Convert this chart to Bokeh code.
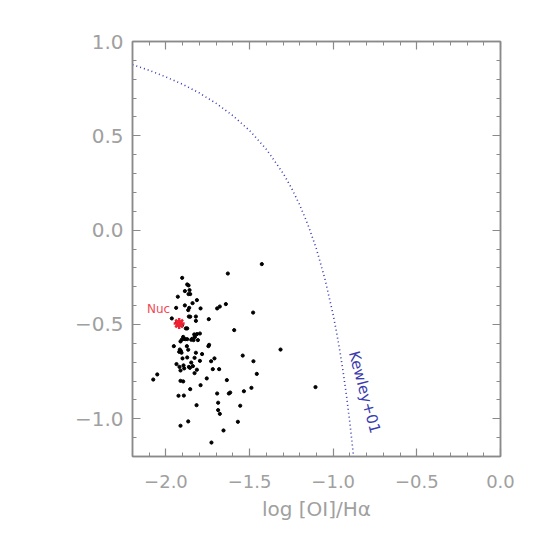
from bokeh.plotting import figure
from bokeh.models import LinearAxis, SingleIntervalTicker, Label, Range1d, ColumnDataSource, CustomJSTickFormatter
from bokeh.embed import file_html
from bokeh.resources import INLINE

# ---- data ----
oi_ha = [-1.427, -1.630, -1.903, -1.873, -1.865, -1.887, -1.859, -1.865, -1.855, -1.929,
         -1.815, -1.841, -1.887, -1.939, -1.861, -1.867, -1.793, -1.694, -1.678, -1.642,
         -1.479, -1.965, -1.863, -1.855, -1.821, -1.821, -1.744, -1.592, -1.881, -1.873,
         -1.831, -1.815, -1.797, -1.897, -1.893, -1.885, -1.905, -1.873, -1.843, -1.835,
         -1.809, -1.827, -1.849, -1.913, -1.953, -1.875, -1.746, -1.742, -1.917, -1.911,
         -1.921, -1.907, -1.867, -1.821, -1.784, -1.901, -1.873, -1.829, -1.710, -1.730,
         -1.797, -1.849, -1.541, -1.315, -1.477, -1.937, -1.919, -1.895, -1.863, -1.857,
         -1.839, -1.815, -1.891, -1.913, -1.829, -1.720, -1.682, -1.457, -2.052, -2.076,
         -1.756, -1.636, -1.913, -1.897, -1.793, -1.855, -1.489, -1.534, -1.616, -1.624,
         -1.694, -1.893, -1.925, -1.817, -1.688, -1.556, -1.688, -1.678, -1.867, -1.570,
         -1.913, -1.656, -1.728, -1.106, -1.905, -1.935]
oiii_hb = [-0.180, -0.230, -0.253, -0.288, -0.293, -0.323, -0.318, -0.339, -0.339, -0.353,
           -0.371, -0.387, -0.399, -0.412, -0.412, -0.424, -0.415, -0.415, -0.405, -0.392,
           -0.437, -0.468, -0.458, -0.459, -0.458, -0.481, -0.472, -0.530, -0.521, -0.521,
           -0.553, -0.551, -0.548, -0.566, -0.576, -0.578, -0.580, -0.578, -0.576, -0.583,
           -0.583, -0.566, -0.581, -0.590, -0.615, -0.615, -0.615, -0.608, -0.633, -0.640,
           -0.645, -0.650, -0.634, -0.650, -0.657, -0.680, -0.675, -0.677, -0.680, -0.695,
           -0.693, -0.702, -0.665, -0.633, -0.695, -0.710, -0.725, -0.717, -0.725, -0.730,
           -0.721, -0.740, -0.733, -0.744, -0.758, -0.737, -0.737, -0.762, -0.765, -0.792,
           -0.786, -0.795, -0.799, -0.802, -0.822, -0.843, -0.836, -0.854, -0.861, -0.866,
           -0.866, -0.877, -0.878, -0.928, -0.915, -0.931, -0.954, -0.974, -1.014, -1.016,
           -1.037, -1.062, -1.126, -0.832, -0.505, -0.490]

nuc_x = [-1.921]
nuc_y = [-0.495]

# Kewley et al. 2001 maximum-starburst line (tabulated)
kewley_x = [-2.2, -2.1, -2.0, -1.9, -1.8, -1.7, -1.6, -1.5, -1.4, -1.3, -1.25, -1.2,
            -1.15, -1.1, -1.05, -1.0, -0.98, -0.96, -0.94, -0.92, -0.90, -0.88, -0.875]
kewley_y = [0.877, 0.847, 0.812, 0.773, 0.727, 0.672, 0.607, 0.528, 0.429, 0.302, 0.224, 0.133,
            0.026, -0.101, -0.257, -0.450, -0.542, -0.643, -0.756, -0.882, -1.025, -1.187, -1.231]

x_tick_labels = {-2.0: "\u22122.0", -1.5: "\u22121.5", -1.0: "\u22121.0", -0.5: "\u22120.5", 0.0: "0.0"}
y_tick_labels = {-1.0: "\u22121.0", -0.5: "\u22120.5", 0.0: "0.0", 0.5: "0.5", 1.0: "1.0"}

GRAY = "#8a8a8a"
LABEL_GRAY = "#a0a0a0"
FONT = "DejaVu Sans"

p = figure(width=532, height=532, x_range=Range1d(-2.2, 0.0), y_range=Range1d(-1.2, 1.0),
           output_backend="svg", toolbar_location=None,
           min_border_left=132, min_border_top=41, min_border_right=32, min_border_bottom=76)
p.grid.visible = False
p.outline_line_color = GRAY
p.outline_line_width = 1.5
p.background_fill_color = "white"
p.border_fill_color = "white"


def style(ax, labels, show_labels=True, size="18px"):
    ax.ticker = SingleIntervalTicker(interval=0.5, num_minor_ticks=5)
    ax.axis_line_color = GRAY
    ax.axis_line_width = 1.5
    ax.major_tick_line_color = GRAY
    ax.minor_tick_line_color = GRAY
    ax.major_tick_line_width = 1.2
    ax.minor_tick_line_width = 1.0
    ax.major_tick_in = 8
    ax.major_tick_out = 0
    ax.minor_tick_in = 4
    ax.minor_tick_out = 0
    ax.major_label_text_font = FONT
    ax.major_label_text_color = LABEL_GRAY
    if show_labels:
        ax.major_label_overrides = labels
        ax.major_label_text_font_size = size
    else:
        ax.formatter = CustomJSTickFormatter(code='return ""')
        ax.major_label_standoff = 0


style(p.xaxis[0], x_tick_labels, size="18px")
style(p.yaxis[0], y_tick_labels, size="20px")
p.xaxis[0].major_label_standoff = 18
p.yaxis[0].major_label_standoff = 9
p.xaxis[0].axis_label = "log [OI]/H\u03b1"
p.xaxis[0].axis_label_text_font = FONT
p.xaxis[0].axis_label_text_font_style = "normal"
p.xaxis[0].axis_label_text_font_size = "20px"
p.xaxis[0].axis_label_text_color = LABEL_GRAY
p.xaxis[0].axis_label_standoff = 6

top = LinearAxis()
style(top, None, False)
p.add_layout(top, "above")
right = LinearAxis()
style(right, None, False)
p.add_layout(right, "right")

# Kewley line
p.line(kewley_x, kewley_y, line_color="#3b3bb0", line_width=1.6, line_dash="1 3")

# data points
src = ColumnDataSource(dict(x=oi_ha, y=oiii_hb))
p.scatter("x", "y", source=src, size=3.2, marker="circle", fill_color="black", line_color="black")

# nucleus
p.scatter(nuc_x, nuc_y, marker="asterisk", size=11, line_color="#ee2233", line_width=2.5)
p.scatter(nuc_x, nuc_y, marker="x", size=9, line_color="#ee2233", line_width=2.5)
p.add_layout(Label(x=nuc_x[0], y=nuc_y[0], text="Nuc", x_offset=-9, y_offset=8,
                   text_align="right", text_baseline="bottom", text_color="#f04a55",
                   text_font=FONT, text_font_size="12px"))

p.add_layout(Label(x=-0.813, y=-0.859, text="Kewley+01", angle=-75, angle_units="deg",
                   text_align="center", text_baseline="middle", text_color="#3b3bb0",
                   text_font=FONT, text_font_size="15px"))

open("out.html", "w").write(file_html(p, INLINE))
